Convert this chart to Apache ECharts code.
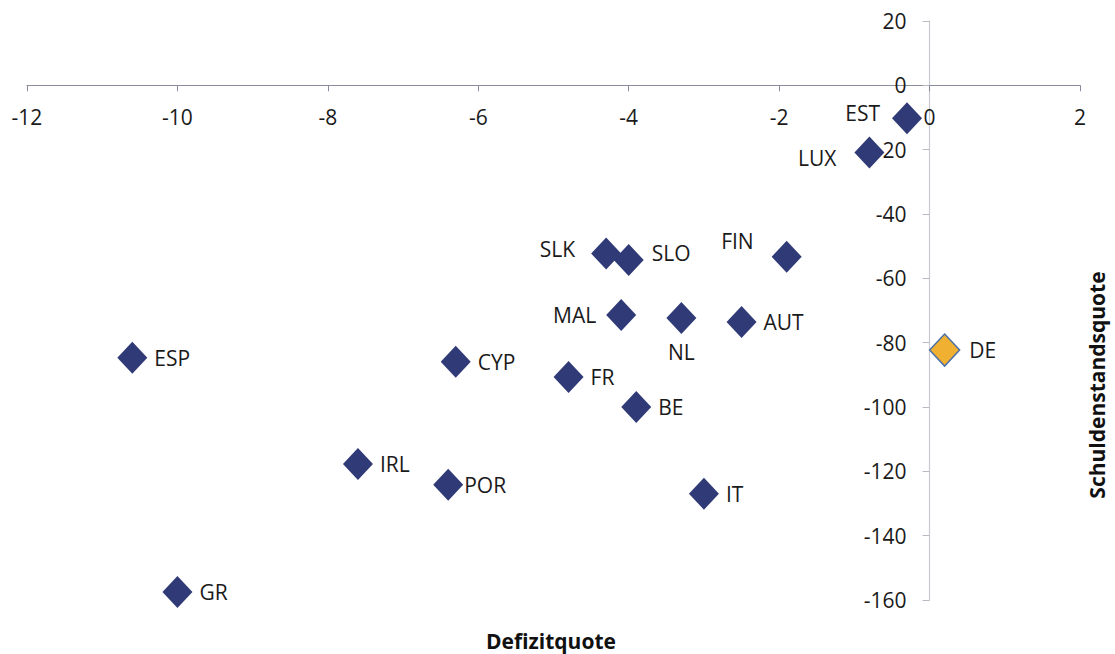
<!DOCTYPE html>
<html>
<head>
<meta charset="utf-8">
<script src="https://cdn.jsdelivr.net/npm/echarts@6/dist/echarts.min.js"></script>
<style>
  html, body { margin: 0; padding: 0; background: #fff; }
  #chart { width: 1115px; height: 654px; }
</style>
</head>
<body>
<div id="chart"></div>
<script>
// Euro area: deficit ratio vs debt ratio (debt shown as negative)
const countries = ['EST', 'LUX', 'FIN', 'SLK', 'SLO', 'MAL', 'NL', 'AUT', 'FR', 'BE', 'ESP', 'CYP', 'IRL', 'POR', 'IT', 'GR', 'DE']
const deficit = [-0.3, -0.8, -1.9, -4.3, -4.0, -4.1, -3.3, -2.5, -4.8, -3.9, -10.6, -6.3, -7.6, -6.4, -3.0, -10.0, 0.2]
const debt = [-10.2, -20.9, -53.3, -52.3, -54.3, -71.4, -72.3, -73.6, -90.7, -100.0, -84.7, -85.9, -117.7, -124.2, -127.0, -157.5, -82.3]
const xTicks = [-12, -10, -8, -6, -4, -2, 0, 2]
const yTicks = [20, 0, -20, -40, -60, -80, -100, -120, -140, -160]

const font = '"Open Sans", "Noto Sans", sans-serif'
const navy = '#2f3a76'

const W = 1115, H = 654
const grid = { left: 27, right: 35, top: 21, bottom: 54 }
const xMin = xTicks[0], xMax = xTicks[xTicks.length - 1]
const yMin = yTicks[yTicks.length - 1], yMax = yTicks[0]
// axes cross at zero: shift them in from the grid edges
const xAxisShift = (H - grid.top - grid.bottom) * (0 - yMin) / (yMax - yMin)
const yAxisShift = (W - grid.left - grid.right) * (0 - xMin) / (xMax - xMin)

// where each country's label sits relative to its diamond
const labelSide = {
  EST: { position: 'left', distance: 12, offset: [0, -5] },
  LUX: { position: 'left', distance: 18, offset: [0, 5] },
  FIN: { position: 'left', distance: 6, offset: [-12, -16] },
  SLK: { position: 'left', distance: 16, offset: [0, -5] },
  SLO: { position: 'right', distance: 8, offset: [0, -7] },
  MAL: { position: 'left', distance: 10 },
  NL: { position: 'bottom', distance: 8 },
  POR: { position: 'right', distance: 1 }
}

const points = countries.map((c, i) => {
  const side = labelSide[c] || { position: 'right', distance: 7 }
  const item = {
    name: c,
    value: [deficit[i], debt[i]],
    label: Object.assign({ show: true, formatter: c }, side)
  }
  if (c === 'DE') {
    item.itemStyle = { color: '#f0b132', borderColor: '#4a6fa8', borderWidth: 1.5, opacity: 1 }
    item.label.distance = 9
  }
  return item
})

const chart = echarts.init(document.getElementById('chart'), null, { renderer: 'svg' })

chart.setOption({
  animation: false,
  textStyle: { fontFamily: font },
  grid: Object.assign({ containLabel: false, outerBoundsMode: 'none' }, grid),
  xAxis: {
    type: 'value',
    position: 'bottom',
    offset: -xAxisShift,
    min: xMin,
    max: xMax,
    interval: 2,
    axisLine: { onZero: false, lineStyle: { color: '#8a8c9c', width: 1.2 } },
    axisTick: { show: true, length: 6, lineStyle: { color: '#8a8c9c' } },
    axisLabel: { margin: 21, fontSize: 21, color: '#1a1a1a', fontFamily: font },
    splitLine: { show: false }
  },
  yAxis: {
    type: 'value',
    position: 'left',
    offset: -yAxisShift,
    min: yMin,
    max: yMax,
    interval: 20,
    axisLine: { show: true, onZero: false, lineStyle: { color: '#c8c9d2', width: 1.2 } },
    axisTick: { show: true, length: 7, lineStyle: { color: '#b8b9c2' } },
    axisLabel: { margin: 23, fontSize: 21, color: '#1a1a1a', fontFamily: font },
    splitLine: { show: false }
  },
  graphic: [
    {
      type: 'text',
      x: 551,
      y: 641,
      style: {
        text: 'Defizitquote',
        fontFamily: font,
        fontSize: 21,
        fontWeight: 'bold',
        fill: '#111',
        align: 'center',
        verticalAlign: 'middle'
      }
    },
    {
      type: 'text',
      x: 1097,
      y: 385,
      rotation: Math.PI / 2,
      style: {
        text: 'Schuldenstandsquote',
        fontFamily: font,
        fontSize: 21,
        fontWeight: 'bold',
        fill: '#111',
        align: 'center',
        verticalAlign: 'middle'
      }
    }
  ],
  series: [
    {
      type: 'scatter',
      symbol: 'diamond',
      symbolSize: [30, 32],
      itemStyle: { color: navy, opacity: 1 },
      label: { fontSize: 21, color: '#1a1a1a', fontFamily: font },
      data: points,
      z: 3
    }
  ]
})
</script>
</body>
</html>
